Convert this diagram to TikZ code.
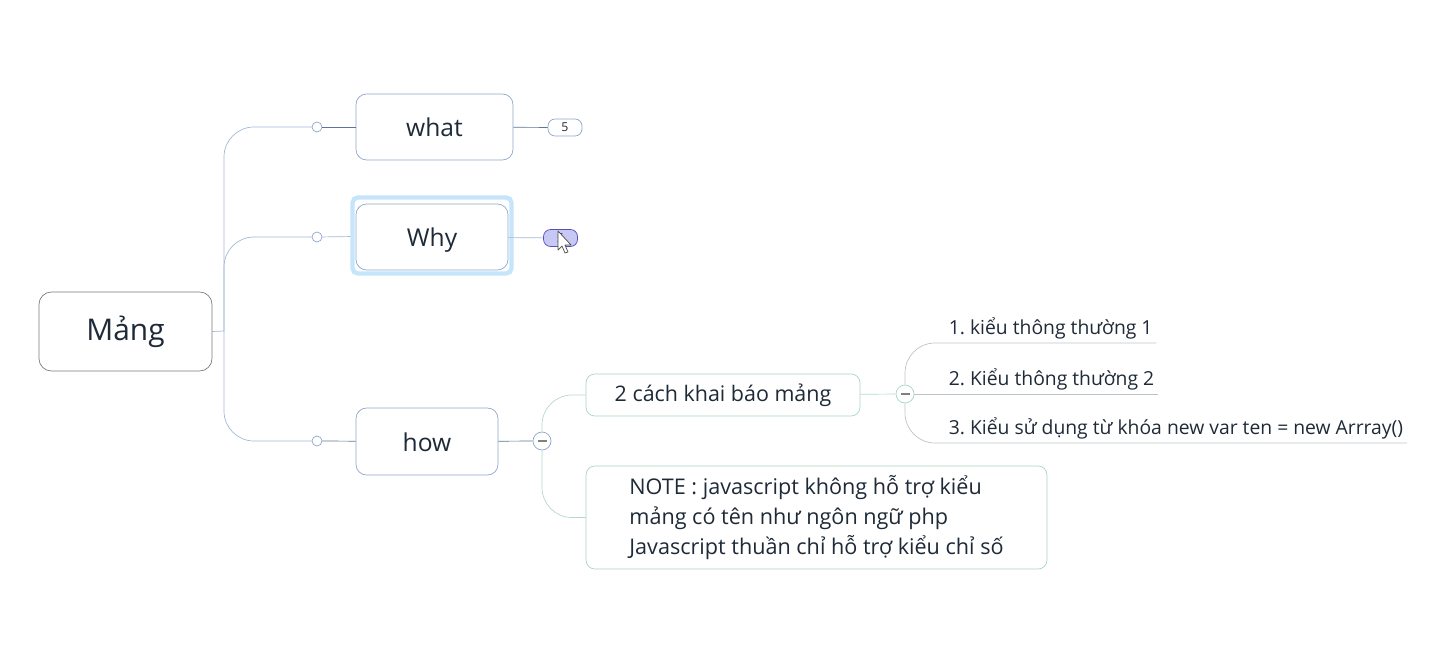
\documentclass[tikz,border=0pt]{standalone}
\usepackage{fontspec}
\setmainfont{Open Sans}
\frenchspacing
\definecolor{InkDark}{HTML}{1E2A38}
\definecolor{RootLine}{HTML}{7A7A7A}
\definecolor{TopicLine}{HTML}{8EA6C9}
\definecolor{BranchLine}{HTML}{A3B9D8}
\definecolor{StubLine}{HTML}{5F7594}
\definecolor{GlowBlue}{HTML}{C5E5FB}
\definecolor{BadgeFill}{HTML}{C8C8F5}
\definecolor{BadgeLine}{HTML}{5050C0}
\definecolor{GreenLine}{HTML}{B6D8CA}
\definecolor{GreenBox}{HTML}{A9D6C1}
\definecolor{TwigLine}{HTML}{BCC5C5}
\usetikzlibrary{positioning}

\begin{document}
\begin{tikzpicture}[x=0.02cm,y=-0.02cm,
        topic/.style={draw=TopicLine,rounded corners=6pt,fill=white,
                      text=InkDark,font=\fontsize{14}{16}\selectfont,inner sep=2pt,
                      text height=12pt,text depth=1pt},
        subtopic/.style={draw=GreenBox,rounded corners=5pt,fill=white,
                      text=InkDark,inner sep=2pt},
        badge/.style={draw=TopicLine,rounded corners=4pt,fill=white,
                      minimum width=0.68cm,minimum height=0.34cm,inner sep=0pt,
                      font=\fontsize{7}{8}\selectfont,text=InkDark},
        knob/.style={circle,draw=TopicLine,fill=white,minimum size=0.2cm,inner sep=0pt},
        fold/.style={circle,draw=#1,fill=white,minimum size=0.36cm,inner sep=0pt},
        item/.style={anchor=south west,inner sep=2pt,text=InkDark,
                     font=\fontsize{11}{12}\selectfont}]
        \useasboundingbox (0,0) rectangle (1449,655);

        % root and main topics
        \node[draw=RootLine,rounded corners=7pt,text=InkDark,
              font=\fontsize{17}{20}\selectfont,
              minimum width=3.46cm,minimum height=1.58cm] (mang) at (125.5,331.5) {Mảng};
        \node[topic,minimum width=3.14cm,minimum height=1.32cm] (what) at (434.5,127) {what};
        \node[draw=GlowBlue,line width=2.5pt,rounded corners=3pt,
              minimum width=3.18cm,minimum height=1.52cm] (glow) at (432,235.5) {};
        \node[topic,minimum width=3.04cm,minimum height=1.32cm] (why) at (432,237) {Why};
        \node[topic,minimum width=2.84cm,minimum height=1.34cm] (how) at (427,441.5) {how};

        \node[knob] (kwhat) at (317,127) {};
        \node[knob] (kwhy)  at (317,237) {};
        \node[knob] (khow)  at (317,441) {};

        \node[badge] (bwhat) at (565,127.5) {5};
        \node[badge,fill=BadgeFill,draw=BadgeLine] (bwhy) at (560.5,238) {5};

        % branches of the root
        \coordinate (hub) at (224,331);
        \draw[BranchLine] (mang.east) -- (hub);
        \foreach \n in {kwhat,kwhy,khow}{
          \draw[BranchLine,rounded corners=0.6cm] (hub) |- (\n);
        }
        \draw[StubLine] (kwhat) -- (what);
        \draw[BranchLine] (kwhy) -- (glow);
        \draw[StubLine] (khow) -- (how);
        \draw[StubLine] (what) -- (bwhat);
        \draw[BranchLine] (why) -- (bwhy);

        % mouse pointer on the badge
        \draw[black!70,fill=white,line join=round]
          (558,231) -- (558,250) -- (562,246) -- (565,253) -- (568,252)
          -- (565,245) -- (571,245) -- cycle;

        % how
        \node[fold=TopicLine] (fhow) at (542,441) {};
        \draw[gray,line width=0.8pt] ([xshift=-0.09cm]fhow.center) -- ([xshift=0.09cm]fhow.center);
        \draw[StubLine] (how) -- (fhow);

        \node[subtopic,font=\fontsize{12.2}{17}\selectfont,
              minimum width=5.48cm,minimum height=0.84cm] (cach) at (723,395)
          {2 cách khai báo mảng};
        \node[subtopic,font=\fontsize{12.3}{17}\selectfont,align=left,
              minimum width=9.22cm,minimum height=2.06cm] (note) at (816.5,517.5)
          {NOTE : javascript không hỗ trợ kiểu\\
           mảng có tên như ngôn ngữ php\\
           Javascript thuần chỉ hỗ trợ kiểu chỉ số};
        \draw[GreenLine,rounded corners=0.6cm] (fhow.north) |- (cach.west);
        \draw[GreenLine,rounded corners=0.6cm] (fhow.south) |- (note.west);

        % ways to declare
        \node[fold=GreenBox] (fcach) at (905,394) {};
        \draw[gray,line width=0.8pt] ([xshift=-0.09cm]fcach.center) -- ([xshift=0.09cm]fcach.center);
        \draw[GreenLine] (cach) -- (fcach);

        \node[item] (ia) at (945,343) {1. kiểu thông thường 1};
        \node[item] (ib) at (945,394) {2. Kiểu thông thường 2};
        \node[item] (ic) at (945,443) {3. Kiểu sử dụng từ khóa new var ten = new Arrray()};
        \draw[TwigLine,rounded corners=0.6cm] (fcach.north) |- (ia.south east);
        \draw[TwigLine] (fcach.east) -- (ib.south east);
        \draw[TwigLine,rounded corners=0.6cm] (fcach.south) |- (ic.south east);
      \end{tikzpicture}
\end{document}
